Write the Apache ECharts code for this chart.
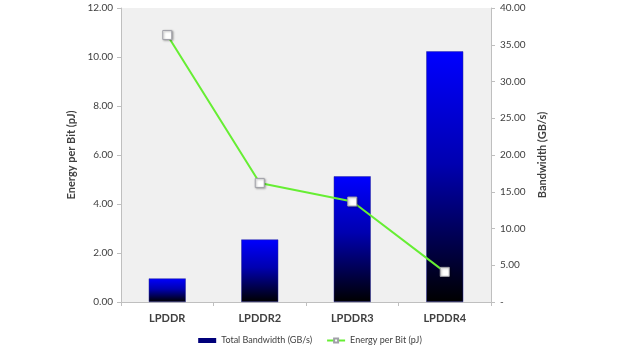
<!DOCTYPE html>
<html>
<head>
<meta charset="utf-8">
<script src="https://cdn.jsdelivr.net/npm/echarts@6/dist/echarts.min.js"></script>
<style>html,body{margin:0;padding:0;background:#fff}#c{width:620px;height:350px}</style>
</head>
<body>
<div id="c"></div>
<script>
const categories = ['LPDDR', 'LPDDR2', 'LPDDR3', 'LPDDR4'];
const bandwidth = [3.2, 8.5, 17.1, 34.1];
const energyPerBit = [10.9, 4.86, 4.1, 1.23];
const leftTicks = {min: 0, max: 12, interval: 2};
const rightTicks = {min: 0, max: 40, interval: 5};

const FONT = 'Lato, Open Sans, sans-serif';
const chart = echarts.init(document.getElementById('c'), null, {renderer: 'canvas'});
chart.setOption({
  animation: false,
  backgroundColor: '#ffffff',
  textStyle: {fontFamily: FONT},
  grid: {left: 121, right: 129, top: 8, bottom: 48, show: true, backgroundColor: '#f0f0f0', borderWidth: 0},
  legend: {
    left: 'center', top: 331, itemGap: 14, itemWidth: 18, itemHeight: 5,
    textStyle: {fontSize: 9, color: '#404040', fontFamily: FONT},
    data: [
      {name: 'Total Bandwidth (GB/s)', icon: 'rect', itemStyle: {color: '#00007a', borderWidth: 0}},
      {name: 'Energy per Bit (pJ)'}
    ]
  },
  xAxis: {
    type: 'category', data: categories, boundaryGap: true,
    axisLine: {lineStyle: {color: '#bfbfbf', width: 1}},
    axisTick: {show: true, length: 4, lineStyle: {color: '#bfbfbf'}},
    axisLabel: {color: '#404040', fontSize: 11, fontWeight: 'bold', margin: 11, fontFamily: FONT},
    splitLine: {show: false}
  },
  yAxis: [
    {
      type: 'value', position: 'left', min: leftTicks.min, max: leftTicks.max, interval: leftTicks.interval,
      name: 'Energy per Bit (pJ)', nameLocation: 'middle', nameGap: 36, nameRotate: 90,
      nameTextStyle: {color: '#404040', fontSize: 11, fontWeight: 'bold', fontFamily: FONT},
      axisLine: {show: true, lineStyle: {color: '#bfbfbf'}},
      axisTick: {show: true, length: 4, lineStyle: {color: '#bfbfbf'}},
      axisLabel: {color: '#404040', fontSize: 10, margin: 8, formatter: v => v.toFixed(2)},
      splitLine: {show: false}
    },
    {
      type: 'value', position: 'right', min: rightTicks.min, max: rightTicks.max, interval: rightTicks.interval,
      name: 'Bandwidth (GB/s)', nameLocation: 'middle', nameGap: 44, nameRotate: 90,
      nameTextStyle: {color: '#404040', fontSize: 11, fontWeight: 'bold', fontFamily: FONT},
      axisLine: {show: true, lineStyle: {color: '#bfbfbf'}},
      axisTick: {show: true, length: 4, lineStyle: {color: '#bfbfbf'}},
      axisLabel: {color: '#404040', fontSize: 10, margin: 9, formatter: v => v === 0 ? '-' : v.toFixed(2)},
      splitLine: {show: false}
    }
  ],
  series: [
    {
      name: 'Total Bandwidth (GB/s)', type: 'bar', yAxisIndex: 1, data: bandwidth, barWidth: 37,
      itemStyle: {
        color: new echarts.graphic.LinearGradient(0, 0, 0, 1, [
          {offset: 0, color: '#0000ff'},
          {offset: 0.45, color: '#0000b0'},
          {offset: 1, color: '#000000'}
        ]),
        borderColor: '#2a2a9a', borderWidth: 0.5
      }
    },
    {
      name: 'Energy per Bit (pJ)', type: 'line', yAxisIndex: 0, data: energyPerBit,
      symbol: 'rect', symbolSize: 9,
      lineStyle: {color: '#66ee33', width: 2},
      itemStyle: {color: '#ffffff', borderColor: '#a0a0a8', borderWidth: 1,
        shadowBlur: 2, shadowColor: 'rgba(0,0,0,0.3)', shadowOffsetX: 1, shadowOffsetY: 1}
    }
  ]
});
</script>
</body>
</html>
